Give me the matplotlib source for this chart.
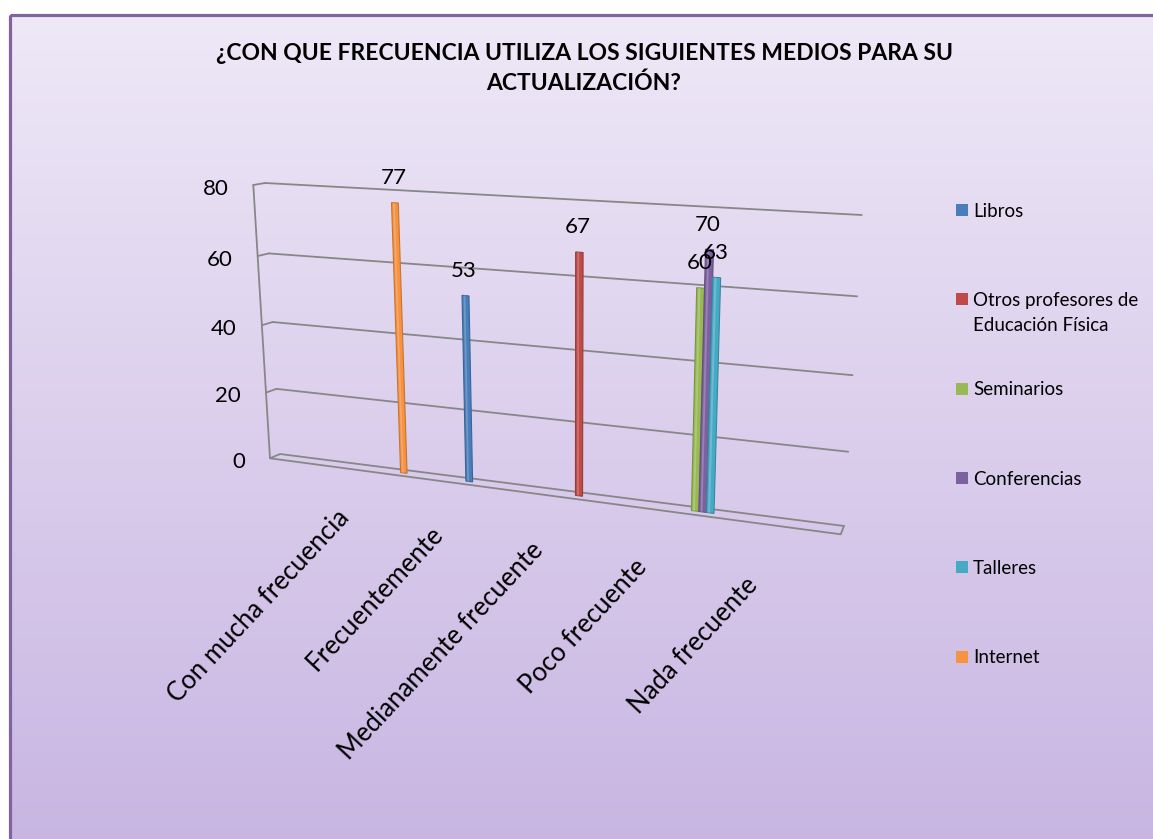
import numpy as np
import matplotlib
matplotlib.use("Agg")
import matplotlib.pyplot as plt
import matplotlib.transforms as mtransforms
from matplotlib.patches import Polygon, Rectangle
from matplotlib.colors import to_rgb, LinearSegmentedColormap

plt.rcParams['font.family'] = ['Lato', 'DejaVu Sans']

title_lines = ["¿CON QUE FRECUENCIA UTILIZA LOS SIGUIENTES MEDIOS PARA SU",
               "ACTUALIZACIÓN?"]
categories = ['Con mucha frecuencia', 'Frecuentemente', 'Medianamente frecuente',
              'Poco frecuente', 'Nada frecuente']
series_names = ['Libros', 'Otros profesores de\nEducación Física', 'Seminarios',
                'Conferencias', 'Talleres', 'Internet']

# one value per category, 0 = no answer in that category
libros = [0, 53, 0, 0, 0]
otros_profesores = [0, 0, 67, 0, 0]
seminarios = [0, 0, 0, 60, 0]
conferencias = [0, 0, 0, 70, 0]
talleres = [0, 0, 0, 63, 0]
internet = [77, 0, 0, 0, 0]
y_ticks = [0, 20, 40, 60, 80]

series_values = [libros, otros_profesores, seminarios, conferencias, talleres, internet]
colors = ['#4A7EBB', '#BE4B48', '#98B954', '#7D60A0', '#46AAC5', '#F69240']

W, H = 1153, 839

# 3-D box: corners of the back wall and of the front face, in pixels,
# ordered (u, v) = (0, 0), (1, 0), (1, 1), (0, 1)
BACK = [(280, 454), (844, 526), (861.7, 215), (265, 183)]
FRONT = [(270, 458.3), (840.7, 534.3), (856.7, 221.3), (253.3, 185)]

CAT_U0 = 0.2224     # centre of first category along the wall
CAT_DU = 0.1836     # category pitch
SER_DU = 0.0123     # bar pitch inside a cluster
BAR_DEPTH = 0.5


def homography(quad):
    src = [(0, 0), (1, 0), (1, 1), (0, 1)]
    A, b = [], []
    for (x, y), (X, Y) in zip(src, quad):
        A.append([x, y, 1, 0, 0, 0, -X * x, -X * y]); b.append(X)
        A.append([0, 0, 0, x, y, 1, -Y * x, -Y * y]); b.append(Y)
    h = np.linalg.solve(np.array(A, float), np.array(b, float))
    return np.append(h, 1).reshape(3, 3)


HB, HF = homography(BACK), homography(FRONT)


def apply_h(M, u, v):
    p = M @ np.vstack([u, v, np.ones_like(u)])
    return (p[:2] / p[2]).T


def project(u, v, d):
    vn = v / y_ticks[-1]
    d = np.broadcast_to(np.asarray(d, float), u.shape)[:, None]
    return (1 - d) * apply_h(HB, u, vn) + d * apply_h(HF, u, vn)


class Box(mtransforms.Transform):
    input_dims = 2
    output_dims = 2

    def __init__(self, to_uvd):
        super().__init__()
        self.to_uvd = to_uvd

    def transform_non_affine(self, values):
        xy = np.asarray(values, float).reshape(-1, 2)
        u, v, d = self.to_uvd(xy[:, 0], xy[:, 1])
        return project(u, v, d)


def plane(d):
    return Box(lambda x, y: (x, y, d))


side = Box(lambda x, y: (np.zeros_like(x), y, x))    # x = depth
floor = Box(lambda x, y: (x, np.zeros_like(x), y))   # y = depth

fig = plt.figure(figsize=(W / 100, H / 100), dpi=100)
ax = fig.add_axes([0, 0, 1, 1])
td = ax.transData

# background gradient + border
bg = LinearSegmentedColormap.from_list('bg', ['#EEE8F7', '#C8B5E2'])
ax.imshow(np.linspace(0, 1, 256)[:, None], cmap=bg, aspect='auto',
          extent=[9.5, W + 10, H + 10, 14.5], zorder=0)
ax.add_patch(Rectangle((9.5, 14.5), W + 20, H + 20, fill=False,
                       ec='#8064A2', lw=2.3, zorder=1))
ax.set_xlim(0, W)
ax.set_ylim(H, 0)
ax.axis('off')

grid_kw = dict(color='#878787', lw=1.3, zorder=2, solid_capstyle='round')

# gridlines: short piece across the side wall, then along the back wall
for v in y_ticks[1:]:
    ax.plot([1, 0], [v, v], transform=side + td, **grid_kw)
    ax.plot([0, 1], [v, v], transform=plane(0) + td, **grid_kw)
ax.plot([0, 0], [0, y_ticks[-1]], transform=plane(1) + td, **grid_kw)
ax.add_patch(Polygon([(0, 0), (1, 0), (1, 1), (0, 1)], closed=True, fill=False,
                     ec='#878787', lw=1.3, transform=floor + td, zorder=2))

for v in y_ticks:
    ax.annotate(str(v), (0, v), xycoords=plane(1) + td, xytext=(-18, -7),
                textcoords='offset points', ha='right', va='baseline', fontsize=16)

# category labels
for i, name in enumerate(categories):
    u = CAT_U0 + i * CAT_DU - 0.0855
    ax.text(u, -17.4 - 0.67 * i, name, transform=plane(0) + td, rotation=47,
            rotation_mode='anchor', ha='right', va='baseline', fontsize=18.5)


def cylinder(u, val, color):
    hw = SER_DU / 2
    base = np.array(to_rgb(color))
    dark = base * 0.8
    light = base + (1 - base) * 0.35
    tr = plane(BAR_DEPTH) + td
    ax.add_patch(Polygon([(u - hw, 0), (u + hw, 0), (u + hw, val), (u - hw, val)],
                         closed=True, fc=base, ec=dark, lw=0.8, transform=tr, zorder=4))
    ax.add_patch(Polygon([(u - hw * 0.55, 0), (u - hw * 0.05, 0),
                          (u - hw * 0.05, val), (u - hw * 0.55, val)],
                         closed=True, fc=light, ec='none', alpha=0.6,
                         transform=tr, zorder=5))
    ax.annotate(str(val), (u, val), xycoords=tr, xytext=(-1, 13.5),
                textcoords='offset points', ha='center', va='baseline',
                fontsize=16, zorder=6)


for s, vals in enumerate(series_values):
    for cat, val in enumerate(vals):
        if val:
            cylinder(CAT_U0 + cat * CAT_DU + (s - 2.5) * SER_DU, val, colors[s])

# title, one line at a time
for k, line in enumerate(title_lines):
    ax.text(584, 60 + 30 * k, line, ha='center', va='baseline', fontsize=16.5,
            fontweight='bold')

# legend
for i, (name, c) in enumerate(zip(series_names, colors)):
    y = 210 + 89.3 * i
    ax.add_patch(Rectangle((956, y - 6), 12, 12, fc=c, ec='none', zorder=3))
    for k, line in enumerate(name.split('\n')):
        ax.text(973, y + 6.7 + 25 * k, line, ha='left', va='baseline', fontsize=13.5)

fig.savefig('out.png', dpi=100, facecolor='white')
